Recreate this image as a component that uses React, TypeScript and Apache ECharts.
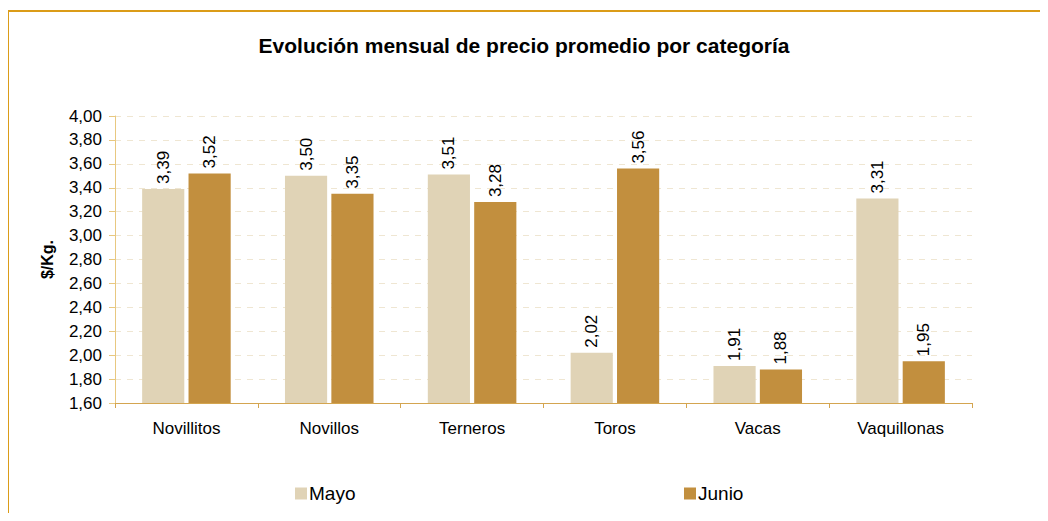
import React, { useEffect, useRef } from "react";
import * as echarts from "echarts";

const categories = ["Novillitos", "Novillos", "Terneros", "Toros", "Vacas", "Vaquillonas"];
const mayo = [3.39, 3.5, 3.51, 2.02, 1.91, 3.31];
const junio = [3.52, 3.35, 3.28, 3.56, 1.88, 1.95];
const seriesNames = ["Mayo", "Junio"];
const colors = ["#E0D3B6", "#C28F3E"];

const fmt = (v: number) => v.toFixed(2).replace(".", ",");
const FONT = "'Liberation Sans', Arial, sans-serif";

export default function App() {
  const ref = useRef<HTMLDivElement>(null);
  useEffect(() => {
    const chart = echarts.init(ref.current!, null, { renderer: "svg" });
    const label = {
      show: true,
      position: "top" as const,
      rotate: 90,
      align: "left" as const,
      verticalAlign: "middle" as const,
      distance: 5,
      fontSize: 17,
      fontFamily: FONT,
      color: "#000",
      formatter: (p: any) => fmt(p.value),
    };
    const legendText = { fontSize: 19, fontFamily: FONT, color: "#000", padding: [0, 0, 0, -3] };
    chart.setOption({
      animation: false,
      backgroundColor: "#fff",
      title: {
        text: "Evolución mensual de precio promedio por categoría",
        left: "center",
        top: 30,
        textStyle: { fontSize: 21, fontWeight: "bold", fontFamily: FONT, color: "#000" },
      },
      graphic: [
        {
          type: "polyline",
          shape: { points: [[8, 560], [8, 11], [1080, 11]] },
          style: { fill: "none", stroke: "#DB9C18", lineWidth: 2 },
          silent: true,
        },
      ],
      legend: [
        {
          top: 479,
          left: 290,
          itemWidth: 12,
          itemHeight: 12,
          icon: "rect",
          textStyle: legendText,
          data: [seriesNames[0]],
        },
        {
          top: 479,
          left: 679,
          itemWidth: 12,
          itemHeight: 12,
          icon: "rect",
          textStyle: legendText,
          data: [seriesNames[1]],
        },
      ],
      grid: { left: 115, top: 116, right: 76, bottom: 118 },
      xAxis: {
        type: "category",
        data: categories,
        axisLine: { lineStyle: { color: "#D4A550", width: 1 } },
        axisTick: { show: true, alignWithLabel: false, length: 5, lineStyle: { color: "#D4A550" } },
        axisLabel: { fontSize: 17, fontFamily: FONT, color: "#000", margin: 17 },
      },
      yAxis: {
        type: "value",
        min: 1.6,
        max: 4.0,
        interval: 0.2,
        name: "$/Kg.",
        nameLocation: "middle",
        nameRotate: 90,
        nameGap: 60,
        nameTextStyle: { fontSize: 16, fontWeight: "bold", fontFamily: FONT, color: "#000" },
        axisLine: { show: true, lineStyle: { color: "#E8C880", width: 1 } },
        axisTick: { show: true, length: 6, lineStyle: { color: "#E8C880" } },
        axisLabel: { fontSize: 17, fontFamily: FONT, color: "#000", margin: 13, formatter: (v: number) => fmt(v) },
        splitLine: { show: true, lineStyle: { color: "#EFE6D2", type: [6, 6] } },
      },
      series: [
        {
          name: seriesNames[0],
          type: "bar",
          data: mayo,
          itemStyle: { color: colors[0] },
          barGap: "10%",
          barCategoryGap: "38%",
          label,
        },
        {
          name: seriesNames[1],
          type: "bar",
          data: junio,
          itemStyle: { color: colors[1] },
          barGap: "10%",
          barCategoryGap: "38%",
          label,
        },
      ],
    });
    return () => chart.dispose();
  }, []);
  return <div ref={ref} style={{ width: 1048, height: 521, margin: -8 }} />;
}
